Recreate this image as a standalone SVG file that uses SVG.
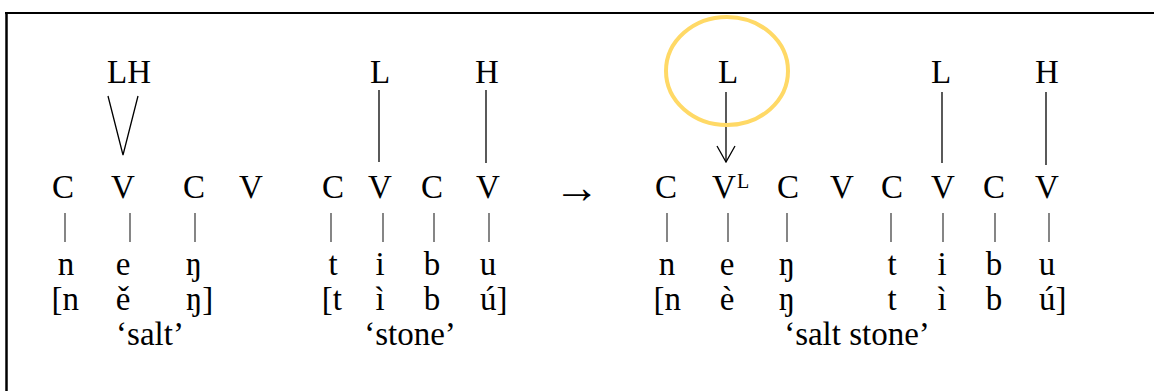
<svg xmlns="http://www.w3.org/2000/svg" width="1154" height="391" viewBox="0 0 1154 391">
<defs>
<style>
text{font-family:'Liberation Serif','DejaVu Serif',serif;font-size:33px;fill:#000;text-anchor:middle}
.sup{font-size:20px;text-anchor:start}
.st{text-anchor:start}
.en{text-anchor:end}
.big{font-size:46px}
.tone{stroke:#000;stroke-width:1.3;fill:none}
.bar{stroke:#444;stroke-width:1.3;fill:none}
</style>
<marker id="ah" viewBox="0 0 20 20" refX="19" refY="10" markerWidth="20" markerHeight="20" markerUnits="userSpaceOnUse" orient="auto">
<path d="M3,1 L19,10 L3,19" fill="none" stroke="#000" stroke-width="1.3"/>
</marker>
</defs>
<rect width="1154" height="391" fill="#fff"/>
<g id="frame">
<line x1="6.5" y1="12" x2="6.5" y2="391" stroke="#000" stroke-width="2.5"/>
<line x1="5" y1="13" x2="1154" y2="13" stroke="#000" stroke-width="2"/>
</g>
<g id="connectors">
<polyline class="tone" points="108,96 123,155 138,96"/>
<line class="tone" x1="379" y1="90" x2="379" y2="162"/>
<line class="tone" x1="486" y1="90" x2="486" y2="163"/>
<line class="tone" x1="726" y1="92" x2="726" y2="162" marker-end="url(#ah)"/>
<line class="tone" x1="942" y1="92" x2="942" y2="163"/>
<line class="tone" x1="1046" y1="92" x2="1046" y2="165"/>
<g id="bars">
<line class="bar" x1="65" y1="213" x2="65" y2="242"/>
<line class="bar" x1="130" y1="213" x2="130" y2="242"/>
<line class="bar" x1="195" y1="213" x2="195" y2="242"/>
<line class="bar" x1="331" y1="213" x2="331" y2="242"/>
<line class="bar" x1="383" y1="213" x2="383" y2="242"/>
<line class="bar" x1="434" y1="213" x2="434" y2="242"/>
<line class="bar" x1="489" y1="213" x2="489" y2="242"/>
<line class="bar" x1="667" y1="213" x2="667" y2="242"/>
<line class="bar" x1="728" y1="213" x2="728" y2="242"/>
<line class="bar" x1="787" y1="213" x2="787" y2="242"/>
<line class="bar" x1="891" y1="213" x2="891" y2="242"/>
<line class="bar" x1="943" y1="213" x2="943" y2="242"/>
<line class="bar" x1="995" y1="213" x2="995" y2="242"/>
<line class="bar" x1="1049" y1="213" x2="1049" y2="242"/>
</g>
</g>
<g id="highlight">
<ellipse cx="727" cy="71" rx="61" ry="54" fill="none" stroke="#FFD966" stroke-width="4"/>
</g>
<g id="salt">
<text x="129" y="83">LH</text>
<text x="63" y="198">C</text>
<text x="123" y="198">V</text>
<text x="194" y="198">C</text>
<text x="251" y="198">V</text>
<text x="66" y="275">n</text>
<text x="123" y="275">e</text>
<text x="194" y="275">ŋ</text>
<text class="en" x="79" y="310">[n</text>
<text x="123" y="310">ě</text>
<text class="st" x="186" y="310">ŋ]</text>
<text x="150" y="345">‘salt’</text>
</g>
<g id="stone">
<text x="380" y="83">L</text>
<text x="487" y="83">H</text>
<text x="333" y="198">C</text>
<text x="380" y="198">V</text>
<text x="432" y="198">C</text>
<text x="488" y="198">V</text>
<text x="333" y="275">t</text>
<text x="380" y="275">i</text>
<text x="432" y="275">b</text>
<text x="488" y="275">u</text>
<text class="en" x="342" y="310">[t</text>
<text x="380" y="310">ì</text>
<text x="432" y="310">b</text>
<text class="st" x="480" y="310">ú]</text>
<text x="410" y="345">‘stone’</text>
</g>
<g id="arrow">
<text class="big" x="577" y="203">→</text>
</g>
<g id="saltstone">
<text x="728" y="83">L</text>
<text x="941" y="83">L</text>
<text x="1047" y="83">H</text>
<text x="666" y="198">C</text>
<text x="724" y="198">V</text>
<text class="sup" x="737" y="188">L</text>
<text x="788" y="198">C</text>
<text x="842" y="198">V</text>
<text x="892" y="198">C</text>
<text x="943" y="198">V</text>
<text x="994" y="198">C</text>
<text x="1047" y="198">V</text>
<text x="667" y="275">n</text>
<text x="727" y="275">e</text>
<text x="787" y="275">ŋ</text>
<text x="892" y="275">t</text>
<text x="942" y="275">i</text>
<text x="994" y="275">b</text>
<text x="1047" y="275">u</text>
<text class="en" x="681" y="310">[n</text>
<text x="727" y="310">è</text>
<text x="787" y="310">ŋ</text>
<text x="892" y="310">t</text>
<text x="942" y="310">ì</text>
<text x="994" y="310">b</text>
<text class="st" x="1039" y="310">ú]</text>
<text x="857" y="345">‘salt stone’</text>
</g>
</svg>
